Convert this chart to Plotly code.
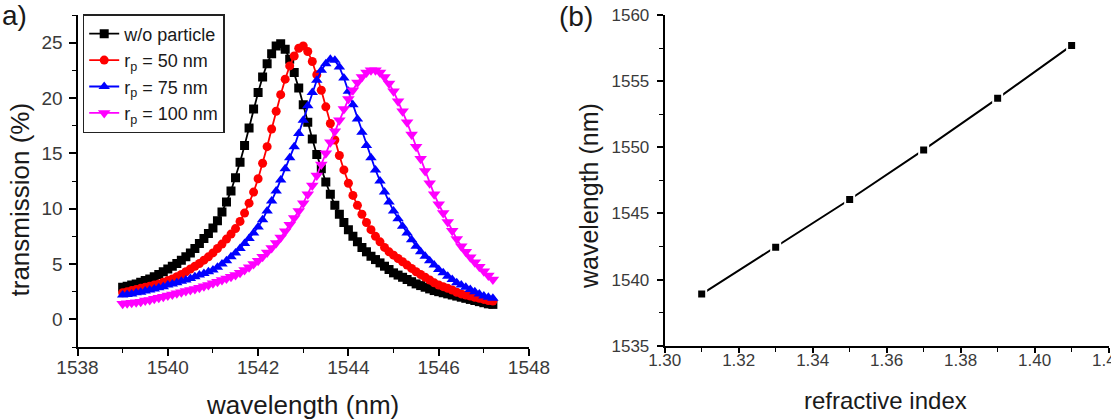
import plotly.graph_objects as go

W, H = 1111, 419

# ---------------- data: panel a ----------------
wavelength_nm = [
    1539.0, 1539.1, 1539.2, 1539.3, 1539.4, 1539.5, 1539.6, 1539.7, 1539.8, 1539.9,
    1540.0, 1540.1, 1540.2, 1540.3, 1540.4, 1540.5, 1540.6, 1540.7, 1540.8, 1540.9,
    1541.0, 1541.1, 1541.2, 1541.3, 1541.4, 1541.5, 1541.6, 1541.7, 1541.8, 1541.9,
    1542.0, 1542.1, 1542.2, 1542.3, 1542.4, 1542.5, 1542.6, 1542.7, 1542.8, 1542.9,
    1543.0, 1543.1, 1543.2, 1543.3, 1543.4, 1543.5, 1543.6, 1543.7, 1543.8, 1543.9,
    1544.0, 1544.1, 1544.2, 1544.3, 1544.4, 1544.5, 1544.6, 1544.7, 1544.8, 1544.9,
    1545.0, 1545.1, 1545.2, 1545.3, 1545.4, 1545.5, 1545.6, 1545.7, 1545.8, 1545.9,
    1546.0, 1546.1, 1546.2, 1546.3, 1546.4, 1546.5, 1546.6, 1546.7, 1546.8, 1546.9,
    1547.0, 1547.1, 1547.2,
]

t_no_particle = [
    2.9, 3.0, 3.1, 3.2, 3.35, 3.5, 3.65, 3.85, 4.05, 4.3,
    4.55, 4.8, 5.05, 5.35, 5.65, 6.0, 6.4, 6.85, 7.3, 7.75,
    8.25, 8.9, 9.7, 10.6, 11.6, 12.8, 14.2, 15.7, 17.3, 19.0,
    20.5, 21.9, 23.1, 24.0, 24.7, 24.9, 24.4, 23.5, 22.3, 20.9,
    19.4, 17.8, 16.3, 14.9, 13.6, 12.4, 11.3, 10.3, 9.5, 8.75,
    8.1, 7.5, 7.0, 6.5, 6.1, 5.7, 5.4, 5.1, 4.8, 4.5,
    4.2, 4.0, 3.8, 3.6, 3.4, 3.2, 3.05, 2.9, 2.75, 2.6,
    2.5, 2.4, 2.3, 2.2, 2.1, 2.0, 1.9, 1.8, 1.7, 1.6,
    1.5, 1.4, 1.35,
]

t_rp50 = [
    2.4, 2.5, 2.6, 2.7, 2.8, 2.9, 3.0, 3.1, 3.2, 3.35,
    3.5, 3.65, 3.85, 4.05, 4.3, 4.55, 4.8, 5.05, 5.35, 5.65,
    6.0, 6.4, 6.8, 7.25, 7.7, 8.2, 8.85, 9.6, 10.5, 11.5,
    12.7, 14.1, 15.6, 17.2, 18.8, 20.3, 21.7, 22.9, 23.8, 24.5,
    24.7, 24.2, 23.3, 22.1, 20.7, 19.2, 17.7, 16.2, 14.8, 13.5,
    12.3, 11.2, 10.3, 9.5, 8.75, 8.1, 7.5, 7.0, 6.5, 6.1,
    5.8, 5.5, 5.2, 4.9, 4.6, 4.3, 4.05, 3.8, 3.55, 3.3,
    3.1, 2.95, 2.8, 2.65, 2.45, 2.3, 2.2, 2.1, 2.0, 1.9,
    1.8, 1.7, 1.65,
]

t_rp75 = [
    2.2, 2.25, 2.3, 2.4, 2.45, 2.55, 2.65, 2.75, 2.85, 2.95,
    3.1, 3.2, 3.3, 3.45, 3.55, 3.7, 3.85, 4.0, 4.15, 4.3,
    4.45, 4.7, 5.0, 5.3, 5.65, 6.0, 6.4, 6.85, 7.3, 7.8,
    8.35, 9.0, 9.8, 10.7, 11.6, 12.6, 13.6, 14.6, 15.6, 16.8,
    18.0, 19.3, 20.5, 21.6, 22.5, 23.1, 23.5, 23.4, 22.8, 21.8,
    20.6, 19.4, 18.1, 16.9, 15.7, 14.6, 13.5, 12.5, 11.5, 10.6,
    9.8, 9.1, 8.4, 7.8, 7.2, 6.6, 6.1, 5.7, 5.3, 4.9,
    4.5, 4.2, 3.9, 3.6, 3.3, 3.1, 2.9, 2.7, 2.5, 2.3,
    2.1, 2.0, 1.9,
]

t_rp100 = [
    1.4, 1.45, 1.5, 1.55, 1.6, 1.7, 1.75, 1.85, 1.95, 2.05,
    2.15, 2.25, 2.35, 2.45, 2.55, 2.65, 2.75, 2.85, 3.0, 3.1,
    3.25, 3.4, 3.55, 3.7, 3.85, 4.0, 4.2, 4.45, 4.7, 5.0,
    5.3, 5.65, 6.05, 6.45, 6.9, 7.4, 7.95, 8.55, 9.15, 9.8,
    10.5, 11.3, 12.1, 13.0, 14.0, 15.0, 16.0, 17.0, 18.0, 19.0,
    19.9, 20.7, 21.4, 21.9, 22.3, 22.5, 22.5, 22.3, 21.9, 21.3,
    20.6, 19.7, 18.8, 17.8, 16.7, 15.6, 14.5, 13.4, 12.3, 11.3,
    10.4, 9.6, 8.8, 8.0, 7.25, 6.6, 6.1, 5.6, 5.15, 4.75,
    4.35, 3.95, 3.6,
]

series_names = ["w/o particle", "r<sub>p</sub> = 50 nm", "r<sub>p</sub> = 75 nm", "r<sub>p</sub> = 100 nm"]

# ---------------- data: panel b ----------------
refractive_index = [1.31, 1.33, 1.35, 1.37, 1.39, 1.41]
resonance_nm = [1538.9, 1542.45, 1546.05, 1549.8, 1553.7, 1557.7]

FONT = "Liberation Sans, Arial, sans-serif"
TICKC = "#3a3a3a"
TXTC = "#1a1a1a"
AXC = "#000000"

fig = go.Figure()

styles = [
    dict(color="#000000", symbol="square", size=9),
    dict(color="#ff0000", symbol="circle", size=9),
    dict(color="#0000ff", symbol="triangle-up", size=10),
    dict(color="#ff00ff", symbol="triangle-down", size=11),
]
for name, ys, st in zip(series_names, [t_no_particle, t_rp50, t_rp75, t_rp100], styles):
    fig.add_trace(go.Scatter(
        x=wavelength_nm, y=ys, name=name, mode="lines+markers",
        line=dict(color=st["color"], width=1.8),
        marker=dict(color=st["color"], symbol=st["symbol"], size=st["size"], line=dict(width=0)),
        xaxis="x", yaxis="y",
    ))

fig.add_trace(go.Scatter(
    x=refractive_index, y=resonance_nm, mode="lines+markers", showlegend=False,
    line=dict(color="#000000", width=2),
    marker=dict(color="#000000", symbol="square", size=9, line=dict(color="white", width=2)),
    xaxis="x2", yaxis="y2",
))


def px_x(p):
    return p / W


def px_y(p):
    return 1 - p / H


def make_axis(domain, rng, tick0, dtick, minor_dtick, ticklen, fsize, anchor, standoff, fmt=None):
    ax = go.layout.XAxis(
        domain=domain, range=rng, anchor=anchor, automargin=False,
        showgrid=False, zeroline=False,
        showline=True, linecolor=AXC, linewidth=2, mirror=False,
        ticks="outside", tickcolor=AXC, tickwidth=1.5, ticklen=ticklen,
        tickmode="linear", tick0=tick0, dtick=dtick,
        ticklabelstandoff=standoff, ticklabeloverflow="allow",
        tickfont=dict(family=FONT, color=TICKC, size=fsize),
        minor=dict(ticks="outside", dtick=minor_dtick, ticklen=4, tickcolor=AXC, tickwidth=1.3),
    )
    if fmt:
        ax.tickformat = fmt
    return ax.to_plotly_json()


fig.update_layout(
    width=W, height=H, margin=dict(l=0, r=0, t=0, b=0, autoexpand=False),
    paper_bgcolor="white", plot_bgcolor="white",
    font=dict(family=FONT, color=TXTC),
    xaxis=make_axis([px_x(77.5), px_x(529)], [1538, 1548], 1538, 2, 1, 7, 19, "y", -5),
    yaxis=make_axis([px_y(347), px_y(15)], [-2.5, 27.5], 0, 5, 2.5, 7, 19, "x", 2),
    xaxis2=make_axis([px_x(664.7), px_x(1109)], [1.30, 1.4201], 1.30, 0.02, 0.01, 5, 17, "y2", -7, ".2f"),
    yaxis2=make_axis([px_y(345.7), px_y(15)], [1535, 1560], 1535, 5, 2.5, 6, 17, "x2", 4),
    legend=dict(
        x=px_x(82.7), y=px_y(14), xanchor="left", yanchor="top",
        bgcolor="white", bordercolor="#222222", borderwidth=1.5,
        font=dict(family=FONT, size=18, color=TXTC),
        tracegroupgap=0,
    ),
    showlegend=True,
)

annos = [
    dict(text="a)", x=px_x(0), y=px_y(-2), xanchor="left", yanchor="top", font=dict(size=28)),
    dict(text="(b)", x=px_x(557), y=px_y(-1), xanchor="left", yanchor="top", font=dict(size=28)),
    dict(text="transmission (%)", x=px_x(19.5), y=px_y(200), xanchor="center", yanchor="middle",
         textangle=-90, font=dict(size=26)),
    dict(text="wavelength (nm)", x=px_x(302.5), y=px_y(405), xanchor="center", yanchor="middle",
         font=dict(size=26)),
    dict(text="wavelength (nm)", x=px_x(589), y=px_y(196), xanchor="center", yanchor="middle",
         textangle=-90, font=dict(size=25)),
    dict(text="refractive index", x=px_x(885), y=px_y(400), xanchor="center", yanchor="middle",
         font=dict(size=24)),
]
for a in annos:
    a.update(xref="paper", yref="paper", showarrow=False)
    a["font"].update(family=FONT, color=TXTC)
    fig.add_annotation(**a)

fig.write_html("out.html")
